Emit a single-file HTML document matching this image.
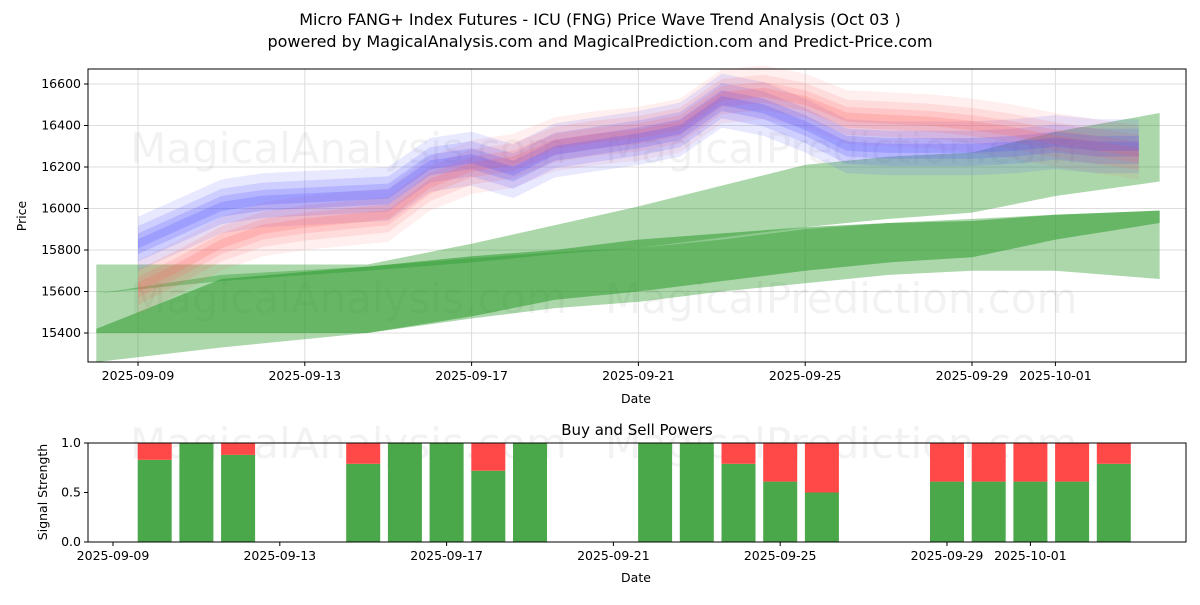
<!DOCTYPE html>
<html><head><meta charset="utf-8"><style>
body{margin:0;background:#fff;font-family:"Liberation Sans",sans-serif}
svg text{font-family:"DejaVu Sans","Liberation Sans",sans-serif;fill:#000}
</style></head><body>
<svg id="c" width="1200" height="600"></svg>
<script>
const topDays=[0,1,2,3,4,5,6,7,8,9,10,11,12,13,14,15,16,17,18,19,20,21,22,23,24];
const blueCenter=[15830,15920,16010,16040,16050,16060,16070,16210,16240,16180,16280,16310,16340,16380,16520,16480,16400,16300,16290,16290,16290,16300,16320,16300,16300];
const redCenter=[15620,15720,15830,15900,15930,15950,15970,16120,16200,16230,16310,16340,16360,16400,16540,16560,16520,16440,16430,16420,16400,16370,16330,16300,16270];
const greenDays=[-1,2,5.5,8,10,12,14,16,18,20,22,24.5];
const gATop=[15730,15730,15730,15830,15920,16010,16110,16210,16250,16270,16370,16460];
const gABot=[15590,15650,15700,15740,15780,15810,15860,15910,15950,15980,16060,16130];
const gBTop=[15590,15680,15720,15760,15790,15810,15850,15900,15930,15950,15970,15990];
const gBBot=[15260,15330,15400,15470,15520,15550,15600,15640,15680,15700,15700,15660];
const gCTop=[15420,15660,15720,15770,15800,15850,15880,15910,15930,15940,15970,15990];
const gCBot=[15400,15400,15400,15480,15560,15600,15650,15700,15740,15765,15850,15930];
const barDays=[1,2,3,6,7,8,9,10,13,14,15,16,17,20,21,22,23,24];
const buyVals=[0.83,1,0.88,0.79,1,1,0.72,1,1,1,0.79,0.61,0.5,0.61,0.61,0.61,0.61,0.79];
const tickLabels=["2025-09-09","2025-09-13","2025-09-17","2025-09-21","2025-09-25","2025-09-29","2025-10-01"];
const tickDays=[0,4,8,12,16,20,22];
const yTicks=[15400,15600,15800,16000,16200,16400,16600];
const bTicks=[0,0.5,1];

const S='http://www.w3.org/2000/svg',svg=document.getElementById('c');
function el(t,a,p){const e=document.createElementNS(S,t);for(const k in a)e.setAttribute(k,a[k]);(p||svg).appendChild(e);return e;}
const L=88,R=1186,T1=69,B1=362,T2=443,B2=542;
const xT=d=>138+d*41.7, xB=d=>113+d*41.7;
const yT=v=>84+(16600-v)*0.2075, yB=v=>B2-v*(B2-T2);

function txt(x,y,s,o){const t=el('text',Object.assign({x:x,y:y,'font-size':12.5},o||{}));t.textContent=s;return t;}
let t=txt(600,25,"Micro FANG+ Index Futures - ICU (FNG) Price Wave Trend Analysis (Oct 03 )",{'text-anchor':'middle','font-size':16});

t=txt(600,47,"powered by MagicalAnalysis.com and MagicalPrediction.com and Predict-Price.com",{'text-anchor':'middle','font-size':16});


yTicks.forEach(v=>{el('line',{x1:L,x2:R,y1:yT(v),y2:yT(v),stroke:'#ddd'});el('line',{x1:L-4,x2:L,y1:yT(v),y2:yT(v),stroke:'#000'});
 const a=txt(L-7,yT(v)+4,v,{'text-anchor':'end'});});
tickDays.forEach((d,i)=>{el('line',{x1:xT(d),x2:xT(d),y1:T1,y2:B1,stroke:'#ddd'});el('line',{x1:xT(d),x2:xT(d),y1:B1,y2:B1+4,stroke:'#000'});
 const a=txt(xT(d),B1+18,tickLabels[i],{'text-anchor':'middle'});});

const wm=[[130,163,"MagicalAnalysis.com"],[605,163,"MagicalPrediction.com"],[130,313,"MagicalAnalysis.com"],[605,313,"MagicalPrediction.com"],[130,458,"MagicalAnalysis.com"],[605,458,"MagicalPrediction.com"]];
wm.forEach(w=>{const a=txt(w[0],w[1],w[2],{'font-size':42});a.style.fill='rgba(0,0,0,0.05)';});

function band(xs,top,bot,fx,col,op,name){
 let pts=xs.map((d,i)=>fx(d)+','+yT(top[i]));
 for(let i=xs.length-1;i>=0;i--)pts.push(fx(xs[i])+','+yT(bot[i]));
 const p=el('polygon',{points:pts.join(' '),fill:col,'fill-opacity':op});
 }
band(greenDays,gATop,gABot,xT,'#2e9a2e',0.4,'green-band-upper');
band(greenDays,gBTop,gBBot,xT,'#2e9a2e',0.4,'green-band-lower');
band(greenDays,gCTop,gCBot,xT,'#2e9a2e',0.55,'green-band-mid');
[[130,0.1],[85,0.13],[50,0.17],[22,0.2]].forEach(w=>{
 band(topDays,redCenter.map(v=>v+w[0]),redCenter.map(v=>v-w[0]),xT,'#ff6060',w[1],'red-wave-band');
 band(topDays,blueCenter.map(v=>v+w[0]),blueCenter.map(v=>v-w[0]),xT,'#5050ff',w[1]+0.03,'blue-wave-band');});

el('rect',{x:L,y:T1,width:R-L,height:B1-T1,fill:'none',stroke:'#000'});
t=txt(636,403,"Date",{'text-anchor':'middle'});
t=txt(26,216,"Price",{'text-anchor':'middle',transform:'rotate(-90 26 216)'});

t=txt(637,435,"Buy and Sell Powers",{'text-anchor':'middle','font-size':15});
barDays.forEach((d,i)=>{const x=xB(d)-17,v=buyVals[i];
 const g=el('rect',{x:x,y:yB(v),width:34,height:B2-yB(v),fill:'#4aa84a'});
 const r=el('rect',{x:x,y:T2,width:34,height:yB(v)-T2,fill:'#ff4848'});});
bTicks.forEach(v=>{el('line',{x1:L-4,x2:L,y1:yB(v),y2:yB(v),stroke:'#000'});
 const a=txt(L-7,yB(v)+4,v.toFixed(1),{'text-anchor':'end'});});
tickDays.forEach((d,i)=>{el('line',{x1:xB(d),x2:xB(d),y1:B2,y2:B2+4,stroke:'#000'});
 const a=txt(xB(d),B2+18,tickLabels[i],{'text-anchor':'middle'});});
el('rect',{x:L,y:T2,width:R-L,height:B2-T2,fill:'none',stroke:'#000'});
t=txt(636,582,"Date",{'text-anchor':'middle'});
t=txt(47,492,"Signal Strength",{'text-anchor':'middle',transform:'rotate(-90 47 492)'});
</script>
</body></html>
